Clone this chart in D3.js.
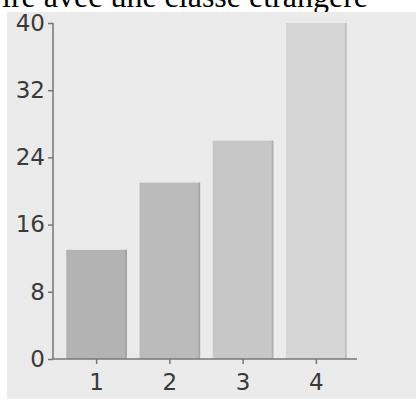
<!DOCTYPE html>
<html>
<head>
<meta charset="utf-8">
<script src="https://cdn.jsdelivr.net/npm/d3@7"></script>
<style>
  body { margin: 0; background: #fff; }
  svg { display: block; }
  .tick text { font-family: "DejaVu Sans", sans-serif; font-size: 23px; fill: #3a3a3a; }
</style>
</head>
<body>
<svg id="chart" width="416" height="403"></svg>
<script>
var title = "ire avec une classe étrangère";
var categories = ["1", "2", "3", "4"];
var values = [13, 21, 26, 40];
var barColors = ["#b3b3b3", "#bbbbbb", "#c7c7c7", "#d6d6d6"];
var yTicks = [0, 8, 16, 24, 32, 40];

var svg = d3.select("#chart");

// cropped caption line above the picture
svg.append("text")
  .attr("x", 368)
  .attr("y", 7)
  .attr("text-anchor", "end")
  .style("font-family", "'Liberation Serif', 'Times New Roman', serif")
  .style("font-size", "32px")
  .style("fill", "#000")
  .text(title);

// grey photo background
svg.append("rect")
  .attr("x", 7).attr("y", 12)
  .attr("width", 409).attr("height", 387)
  .attr("fill", "#ebebeb");

var x = d3.scaleBand()
  .domain(categories)
  .range([60, 353])
  .paddingInner(0.17)
  .paddingOuter(0.085);

var y = d3.scaleLinear()
  .domain([0, 40])
  .range([359, 23]);

var bars = svg.append("g");
bars.selectAll("rect.bar")
  .data(values)
  .enter()
  .append("rect")
  .attr("class", "bar")
  .attr("x", (d, i) => x(categories[i]))
  .attr("y", d => y(d))
  .attr("width", x.bandwidth())
  .attr("height", d => y(0) - y(d))
  .attr("fill", (d, i) => barColors[i]);

// slightly darker right edge on each bar
bars.selectAll("line.edge")
  .data(values)
  .enter()
  .append("line")
  .attr("class", "edge")
  .attr("x1", (d, i) => x(categories[i]) + x.bandwidth() - 1)
  .attr("x2", (d, i) => x(categories[i]) + x.bandwidth() - 1)
  .attr("y1", d => y(d))
  .attr("y2", y(0))
  .attr("stroke", (d, i) => d3.color(barColors[i]).darker(0.35))
  .attr("stroke-width", 1.5);

var yAxis = svg.append("g")
  .attr("transform", "translate(53,0)")
  .call(d3.axisLeft(y).tickValues(yTicks).tickSize(5).tickPadding(3));

var xAxis = svg.append("g")
  .attr("transform", "translate(0," + y(0) + ")")
  .call(d3.axisBottom(x).tickSize(5).tickPadding(10));

[yAxis, xAxis].forEach(function (a) {
  a.select(".domain").remove();
  a.selectAll("line").attr("stroke", "#777").attr("stroke-width", 1.5);
});

// axis lines
svg.append("line")
  .attr("x1", 53).attr("x2", 53)
  .attr("y1", y(40)).attr("y2", y(0))
  .attr("stroke", "#777").attr("stroke-width", 1.5);
svg.append("line")
  .attr("x1", 53).attr("x2", 357)
  .attr("y1", y(0)).attr("y2", y(0))
  .attr("stroke", "#777").attr("stroke-width", 1.5);
</script>
</body>
</html>
